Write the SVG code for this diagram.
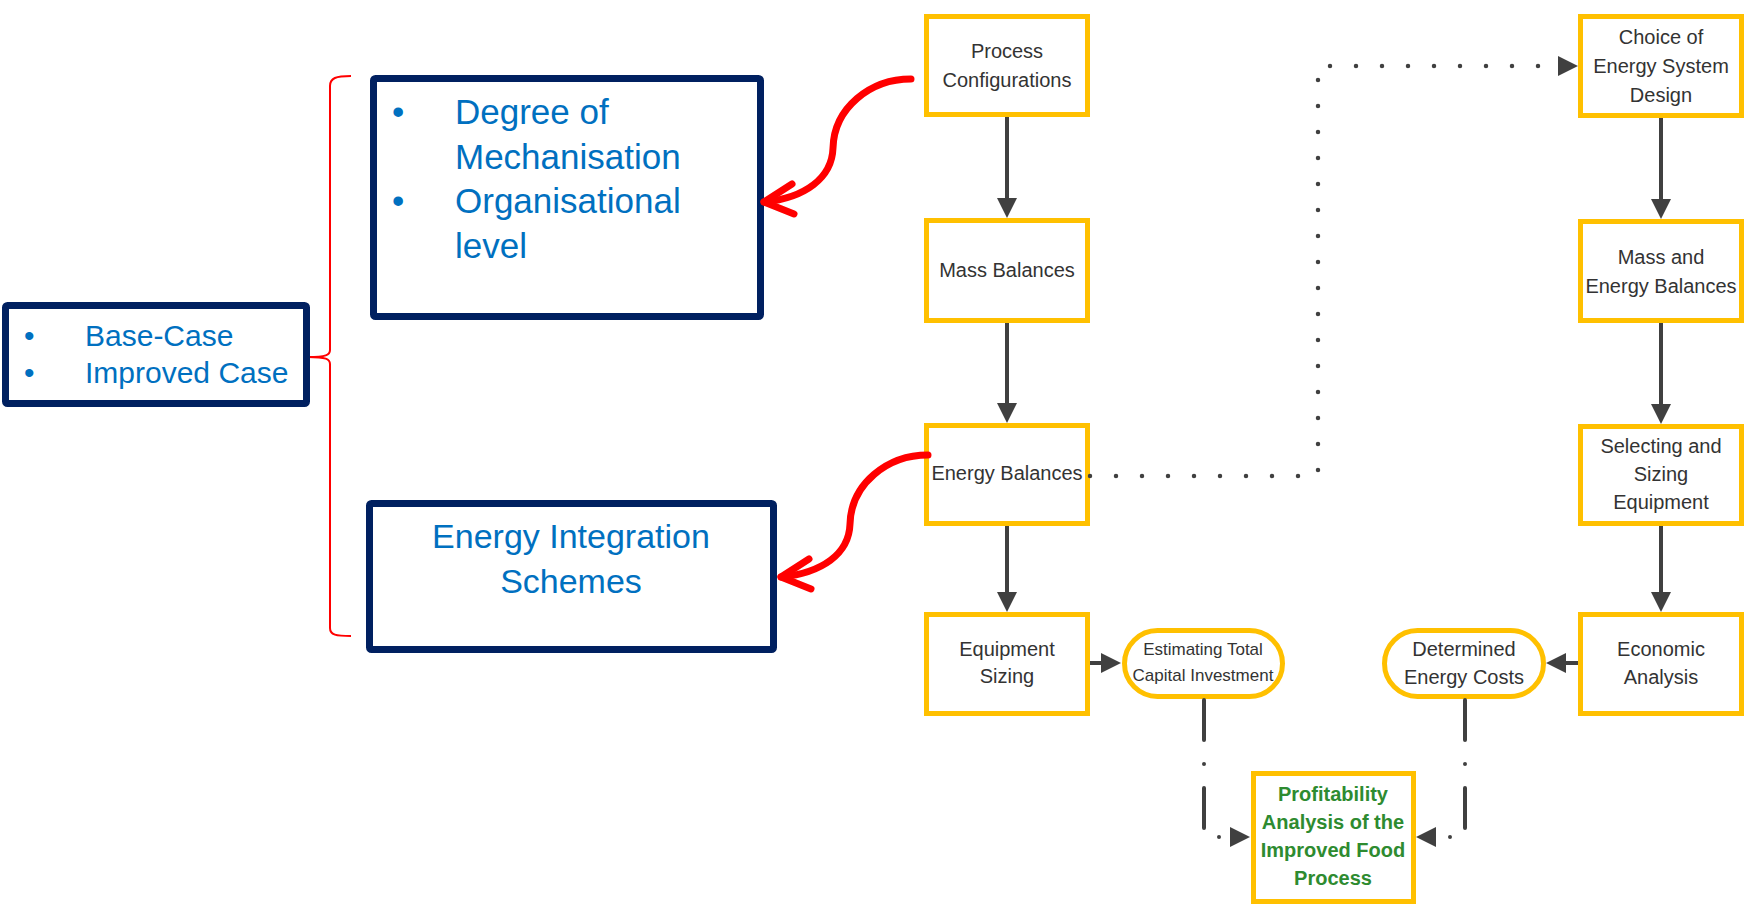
<svg xmlns="http://www.w3.org/2000/svg" width="1748" height="909" viewBox="0 0 1748 909">
<style>
.navy{fill:#fff;stroke:#002060;stroke-width:7;stroke-linejoin:round}
.yb{fill:#fff;stroke:#FFC000;stroke-width:5}
.bt{font-family:"Liberation Sans",Arial,sans-serif;fill:#0070C0}
.t{font-family:"Liberation Sans",Arial,sans-serif;font-size:20px;fill:#333333;text-anchor:middle}
.g{font-family:"Liberation Sans",Arial,sans-serif;font-size:20px;font-weight:bold;fill:#2E8B30;text-anchor:middle}
.ar{fill:none;stroke:#404040;stroke-width:4;marker-end:url(#ah)}
.dd{fill:none;stroke:#404040;stroke-width:4;stroke-dasharray:40 24 0 24;stroke-linecap:round;marker-end:url(#ah)}
.dt{fill:none;stroke:#404040;stroke-width:4.5;stroke-dasharray:0 26;stroke-linecap:round;marker-end:url(#ah)}
.red{fill:none;stroke:#FF0000;stroke-width:7;stroke-linecap:round;stroke-linejoin:round}
</style>
<defs>
<marker id="ah" viewBox="0 0 20 20" refX="12" refY="10" markerWidth="20" markerHeight="20" markerUnits="userSpaceOnUse" orient="auto">
<path d="M0,0 L20,10 L0,20 z" fill="#404040"/>
</marker>
</defs>
<rect width="1748" height="909" fill="#fff"/>

<g id="brace">
<path d="M351,76 C336,76 330,78 330,86 V350 C330,355 326,357 308,357 C326,357 330,359 330,364 V628 C330,635 336,636 351,636" fill="none" stroke="#FF0000" stroke-width="2"/>
</g>

<g id="cases">
<rect class="navy" x="5.5" y="305.5" width="301" height="98" rx="2"/>
<text class="bt" font-size="30" x="24" y="346">•</text>
<text class="bt" font-size="30" x="85" y="346">Base-Case</text>
<text class="bt" font-size="30" x="24" y="383">•</text>
<text class="bt" font-size="30" x="85" y="383">Improved Case</text>
</g>

<g id="mechanisation">
<rect class="navy" x="373.5" y="78.5" width="387" height="238" rx="2"/>
<text class="bt" font-size="35" x="392" y="124">•</text>
<text class="bt" font-size="35" x="455" y="124">Degree of</text>
<text class="bt" font-size="35" x="455" y="168.5">Mechanisation</text>
<text class="bt" font-size="35" x="392" y="213">•</text>
<text class="bt" font-size="35" x="455" y="213">Organisational</text>
<text class="bt" font-size="35" x="455" y="257.5">level</text>
</g>

<g id="integration">
<rect class="navy" x="369.5" y="503.5" width="404" height="146" rx="2"/>
<text class="bt" font-size="34" x="571" y="548" text-anchor="middle">Energy Integration</text>
<text class="bt" font-size="34" x="571" y="593" text-anchor="middle">Schemes</text>
</g>

<g id="process-config">
<rect class="yb" x="926.5" y="16.5" width="161" height="98"/>
<text class="t" x="1007" y="58">Process</text>
<text class="t" x="1007" y="87">Configurations</text>
</g>
<g id="mass-balances">
<rect class="yb" x="926.5" y="220.5" width="161" height="100"/>
<text class="t" x="1007" y="277">Mass Balances</text>
</g>
<g id="energy-balances">
<rect class="yb" x="926.5" y="425.5" width="161" height="98"/>
<text class="t" x="1007" y="480">Energy Balances</text>
</g>
<g id="equipment-sizing">
<rect class="yb" x="926.5" y="614.5" width="161" height="99"/>
<text class="t" x="1007" y="656">Equipment</text>
<text class="t" x="1007" y="683">Sizing</text>
</g>
<g id="estimating">
<rect class="yb" x="1124.5" y="630.5" width="158" height="66" rx="33"/>
<text class="t" style="font-size:17px" x="1203" y="655">Estimating Total</text>
<text class="t" style="font-size:17px" x="1203" y="681">Capital Investment</text>
</g>
<g id="determined">
<rect class="yb" x="1384.5" y="630.5" width="159" height="66" rx="33"/>
<text class="t" x="1464" y="656">Determined</text>
<text class="t" x="1464" y="684">Energy Costs</text>
</g>
<g id="choice">
<rect class="yb" x="1580.5" y="16.5" width="161" height="99"/>
<text class="t" x="1661" y="44">Choice of</text>
<text class="t" x="1661" y="73">Energy System</text>
<text class="t" x="1661" y="102">Design</text>
</g>
<g id="mass-energy">
<rect class="yb" x="1580.5" y="221.5" width="161" height="99"/>
<text class="t" x="1661" y="264">Mass and</text>
<text class="t" x="1661" y="293">Energy Balances</text>
</g>
<g id="selecting">
<rect class="yb" x="1580.5" y="426.5" width="161" height="97"/>
<text class="t" x="1661" y="453">Selecting and</text>
<text class="t" x="1661" y="481">Sizing</text>
<text class="t" x="1661" y="509">Equipment</text>
</g>
<g id="economic">
<rect class="yb" x="1580.5" y="614.5" width="161" height="99"/>
<text class="t" x="1661" y="656">Economic</text>
<text class="t" x="1661" y="684">Analysis</text>
</g>
<g id="profitability">
<rect class="yb" x="1253.5" y="773.5" width="160" height="128"/>
<text class="g" x="1333" y="801">Profitability</text>
<text class="g" x="1333" y="829">Analysis of the</text>
<text class="g" x="1333" y="857">Improved Food</text>
<text class="g" x="1333" y="885">Process</text>
</g>

<g id="connectors">
<path class="ar" d="M1007,117 V210"/>
<path class="ar" d="M1007,323 V415"/>
<path class="ar" d="M1007,526 V604"/>
<path class="ar" d="M1661,118 V211"/>
<path class="ar" d="M1661,323 V416"/>
<path class="ar" d="M1661,526 V604"/>
<path class="ar" d="M1090,663 H1113"/>
<path class="ar" d="M1578,663 H1554"/>
<path class="dd" d="M1204,700 V837 H1242"/>
<path class="dd" d="M1465,700 V837 H1424"/>
<path class="dt" d="M1090,476 H1318 V66 H1570"/>
<path class="red" d="M911,79 C870,79 834,108 833,148 C832,178 805,198 764,202"/>
<path class="red" d="M792,184 L764,202 L794,214"/>
<path class="red" d="M928,455 C887,455 851,484 850,524 C849,554 822,573 781,577"/>
<path class="red" d="M809,559 L781,577 L811,589"/>
</g>
</svg>
